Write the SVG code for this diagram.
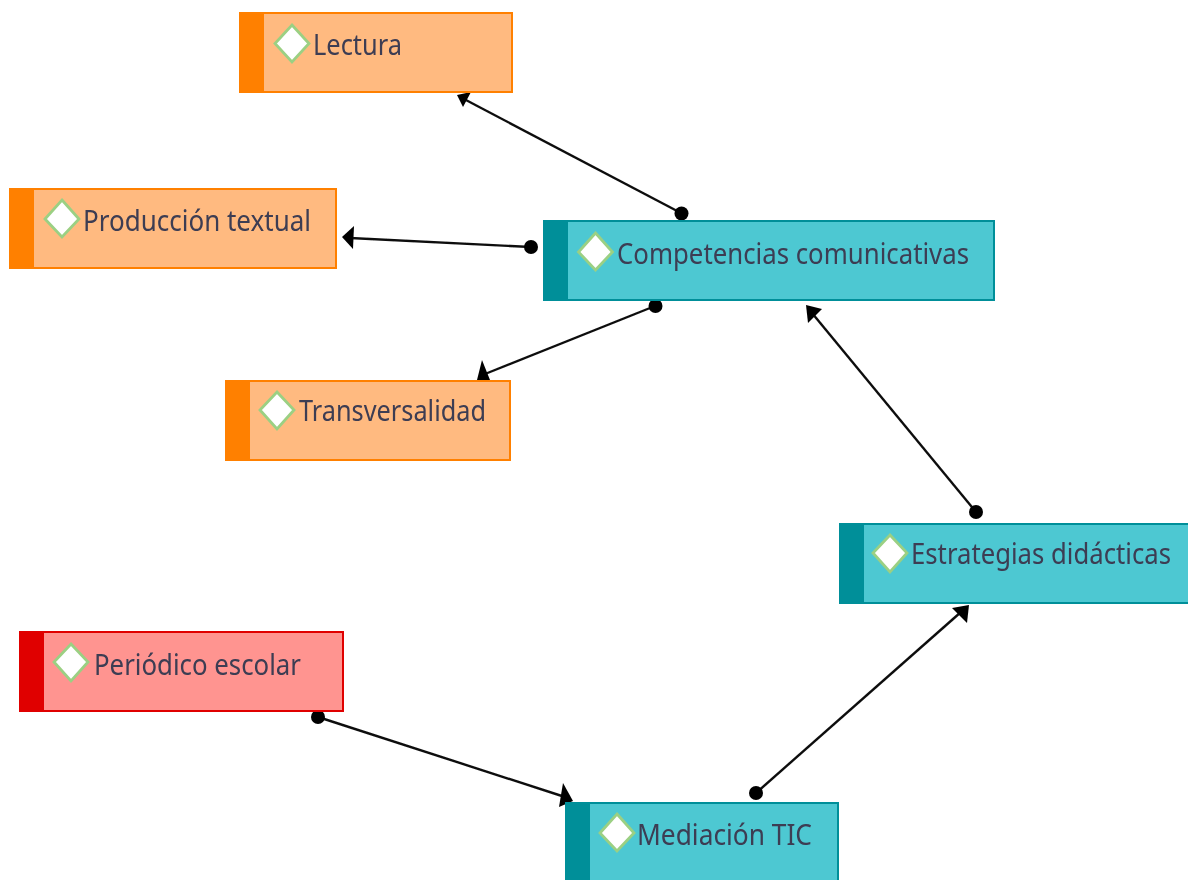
<svg xmlns="http://www.w3.org/2000/svg" width="1188" height="880" viewBox="0 0 1188 880">
<style>
text{font-family:"Noto Sans","Open Sans","DejaVu Sans",sans-serif;font-size:28.5px;fill:#3c3c52}
.box{stroke-width:2}
.o .box{fill:#ffba80;stroke:#ff8000}.o .bar{fill:#ff8000}
.t .box{fill:#4ec8d2;stroke:#008f99}.t .bar{fill:#008f99}
.r .box{fill:#ff9490;stroke:#e00000}.r .bar{fill:#e00000}
.dia{fill:#fff;stroke:#9bd083;stroke-width:2.8}
.c{fill:none;stroke:#111;stroke-width:2.4}
.d,.h{fill:#000}
</style>
<defs><filter id="soft" filterUnits="userSpaceOnUse" x="0" y="0" width="1188" height="880"><feGaussianBlur stdDeviation="0.7"/></filter></defs>
<rect width="1188" height="880" fill="#fff"/>
<g filter="url(#soft)">
<g id="connectors">
<path class="c" d="M681 213L464 99"/><path class="h" d="M457 95L471 92L463 107Z"/><circle class="d" cx="681.500" cy="213.500" r="7"/>
<path class="c" d="M531 247L350 238"/><path class="h" d="M342 237L354 226L353 249Z"/><circle class="d" cx="531" cy="247" r="7"/>
<path class="c" d="M655 306L485 374"/><path class="h" d="M482 360L477 380L490 380Z"/><circle class="d" cx="655.500" cy="306" r="7"/>
<path class="c" d="M976 512L812 313"/><path class="h" d="M806 305L822 309L808 323Z"/><circle class="d" cx="976" cy="512" r="7"/>
<path class="c" d="M756 793L961 612"/><path class="h" d="M969 605L952 608L967 623Z"/><circle class="d" cx="756" cy="793" r="7"/>
<path class="c" d="M318 717L565 797"/><path class="h" d="M563 783L573 801L559 807Z"/><circle class="d" cx="318" cy="717" r="7"/>
</g>
<g id="lectura" class="o"><rect class="box" x="240" y="13" width="272" height="79"/><rect class="bar" x="240" y="13" width="24" height="79"/><path class="dia" d="M292 25L309 43.500L292 62L275 43.500Z"/><text x="313" y="55" textLength="89" lengthAdjust="spacingAndGlyphs">Lectura</text></g>
<g id="produccion" class="o"><rect class="box" x="10" y="189" width="326" height="79"/><rect class="bar" x="10" y="189" width="24" height="79"/><path class="dia" d="M62 200L79 219L62 237L45 219Z"/><text x="83" y="231" textLength="228" lengthAdjust="spacingAndGlyphs">Producción textual</text></g>
<g id="competencias" class="t"><rect class="box" x="544" y="221" width="450" height="79"/><rect class="bar" x="544" y="221" width="24" height="79"/><path class="dia" d="M595.500 233L612.500 252L595.500 270L578.500 252Z"/><text x="617" y="264" textLength="352" lengthAdjust="spacingAndGlyphs">Competencias comunicativas</text></g>
<g id="transversalidad" class="o"><rect class="box" x="226" y="381" width="284" height="79"/><rect class="bar" x="226" y="381" width="24" height="79"/><path class="dia" d="M277 392L294 410L277 429L260 410Z"/><text x="299" y="421" textLength="187" lengthAdjust="spacingAndGlyphs">Transversalidad</text></g>
<g id="estrategias" class="t"><rect class="box" x="840" y="524" width="349" height="79"/><rect class="bar" x="840" y="524" width="24" height="79"/><path class="dia" d="M890 535L907 553L890 572L873 553Z"/><text transform="translate(911 564) scale(1 1.055)" x="0" y="0" style="font-size:27px" textLength="260" lengthAdjust="spacingAndGlyphs">Estrategias didácticas</text></g>
<g id="periodico" class="r"><rect class="box" x="20" y="632" width="323" height="79"/><rect class="bar" x="20" y="632" width="24" height="79"/><path class="dia" d="M71 644L88 662L71 681L54 662Z"/><text x="94" y="675" textLength="207" lengthAdjust="spacingAndGlyphs">Periódico escolar</text></g>
<g id="mediacion" class="t"><rect class="box" x="566" y="803" width="272" height="79"/><rect class="bar" x="566" y="803" width="24" height="79"/><path class="dia" d="M617 814L634 833L617 851L600 833Z"/><text x="637" y="845" textLength="175" lengthAdjust="spacingAndGlyphs">Mediación TIC</text></g>
</g>
</svg>
